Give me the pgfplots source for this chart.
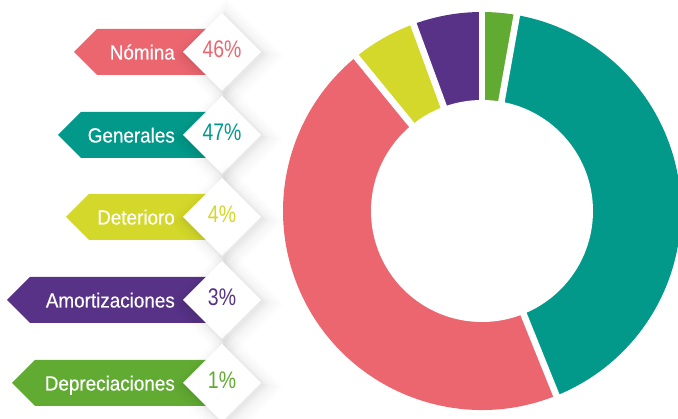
\documentclass[border=0pt]{standalone}
\usepackage{fontspec}
\setmainfont{Liberation Sans}
\newfontfamily\labfont{Liberation Sans}[FakeStretch=0.92, FakeBold=0.35]
\newfontfamily\pctfont{Liberation Sans}[FakeStretch=0.81]
\usepackage{pgfplots}
\usepackage{pgfplotstable}
\pgfplotsset{compat=1.18}

\definecolor{cpink}{RGB}{236,102,112}
\definecolor{cteal}{RGB}{3,153,138}
\definecolor{cyellow}{RGB}{212,216,42}
\definecolor{cpurple}{RGB}{87,50,135}
\definecolor{cgreen}{RGB}{98,171,51}

% slices clockwise from the top, share of the circle as drawn
\pgfplotstableread{
name pct
Depreciaciones 2.8
Generales 41.1
Nomina 45.2
Deterioro 5.3
Amortizaciones 5.6
}\donut

\def\cum{0}
\pgfplotsforeachungrouped \i in {0,...,4}{%
  \pgfplotstablegetelem{\i}{pct}\of\donut
  \pgfmathsetmacro\angS{90-3.6*\cum}%
  \pgfmathsetmacro\cum{\cum+\pgfplotsretval}%
  \pgfmathsetmacro\angE{90-3.6*\cum}%
  \expandafter\xdef\csname sA\i\endcsname{\angS}%
  \expandafter\xdef\csname sB\i\endcsname{\angE}%
}

\newcommand\slice[2]{%
  \fill[#2] (axis cs:482,208) -- ++(\csname sA#1\endcsname:199pt)
    arc[start angle=\csname sA#1\endcsname, end angle=\csname sB#1\endcsname, radius=199pt] -- cycle;
}
\newcommand\gap[1]{%
  \draw[white, line width=6.6pt] (axis cs:482,208) -- ++(\csname sA#1\endcsname:203pt);
}
% diamond: yc, half size, dx, dy(down), opacity
\newcommand\dshape[5]{%
  \fill[black, opacity=#5] (axis cs:{222+#3},{#1+#2-#4}) -- (axis cs:{222+#3+#2},{#1-#4})
    -- (axis cs:{222+#3},{#1-#2-#4}) -- (axis cs:{222+#3-#2},{#1-#4}) -- cycle;
}
% tag: yc, tip x, colour, label, percent
\newcommand\labeltag[5]{%
  \fill[#3] (axis cs:#2,#1) -- (axis cs:{#2+23},{#1+23}) -- (axis cs:215,{#1+23})
    -- (axis cs:215,{#1-23}) -- (axis cs:{#2+23},{#1-23}) -- cycle;
  \dshape{#1}{58}{4}{4}{0.009}
  \dshape{#1}{54}{4}{4}{0.011}
  \dshape{#1}{50}{4}{4}{0.013}
  \dshape{#1}{46}{3}{3}{0.016}
  \dshape{#1}{43}{3}{3}{0.020}
  \dshape{#1}{41}{2}{2}{0.022}
  \fill[white] (axis cs:222,{#1+39}) -- (axis cs:261,#1) -- (axis cs:222,{#1-39}) -- (axis cs:183,#1) -- cycle;
  \node[anchor=base east, inner sep=0pt, text=white, font=\labfont\fontsize{20.5}{24}\selectfont]
    at (axis cs:175,{#1-7.5}) {#4};
  \node[anchor=base, inner sep=0pt, text=#3, font=\pctfont\fontsize{24}{28}\selectfont]
    at (axis cs:222,{#1-6}) {#5\%};
}

\begin{document}
\begin{tikzpicture}
\begin{axis}[name=ax, x=1pt, y=1pt, xmin=0, xmax=678, ymin=0, ymax=419,
  hide axis, clip=true, axis line style={draw=none}]
\addplot[draw=none, forget plot] coordinates {(0,0) (678,419)};
% donut
\slice{0}{cgreen}
\slice{1}{cteal}
\slice{2}{cpink}
\slice{3}{cyellow}
\slice{4}{cpurple}
\gap{0}\gap{1}\gap{2}\gap{3}\gap{4}
\fill[white] (axis cs:482,208) circle[radius=111pt];
% tags
\labeltag{367}{74}{cpink}{Nómina}{46}
\labeltag{284}{58}{cteal}{Generales}{47}
\labeltag{202}{66}{cyellow}{Deterioro}{4}
\labeltag{119}{7}{cpurple}{Amortizaciones}{3}
\labeltag{36}{12}{cgreen}{Depreciaciones}{1}
\end{axis}
\pgfresetboundingbox
\path[use as bounding box] (ax.south west) rectangle (ax.north east);
\end{tikzpicture}
\end{document}
